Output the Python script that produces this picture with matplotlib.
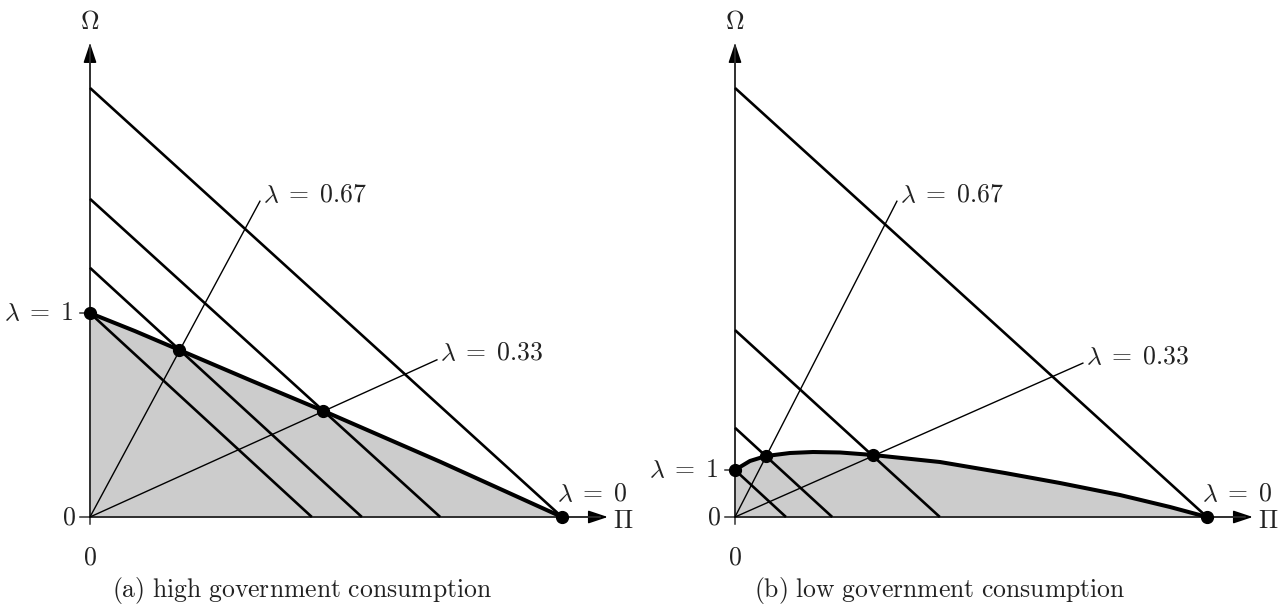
import matplotlib
matplotlib.use("Agg")
import matplotlib.pyplot as plt

plt.rcParams['mathtext.fontset'] = 'cm'
plt.rcParams['font.family'] = ['DejaVu Serif']

# ---------------- data (left: high government consumption) ----------------
left_front_x = [0.0, 0.095, 0.189, 0.339, 0.494, 0.742, 1.0]
left_front_y = [0.432, 0.394, 0.354, 0.290, 0.225, 0.117, 0.0]
left_pts_x = [0.0, 0.189, 0.494, 1.0]
left_pts_y = [0.432, 0.354, 0.225, 0.0]
left_iso_xint = [0.470, 0.576, 0.742, 1.0]
left_iso_yint = [0.432, 0.528, 0.674, 0.909]
left_ray_x = [0.360, 0.735]
left_ray_y = [0.669, 0.333]

# ---------------- data (right: low government consumption) ----------------
right_front_x = [0.0, 0.0318, 0.0657, 0.1165, 0.1653, 0.2225, 0.2924, 0.4343,
                 0.5720, 0.6886, 0.8157, 0.9216, 1.0]
right_front_y = [0.0996, 0.1187, 0.1292, 0.1356, 0.1377, 0.1367, 0.1314, 0.1165,
                 0.0932, 0.0720, 0.0466, 0.0212, 0.0]
right_pts_x = [0.0, 0.0657, 0.2924, 1.0]
right_pts_y = [0.0996, 0.1292, 0.1314, 0.0]
right_iso_xint = [0.108, 0.206, 0.434, 1.0]
right_iso_yint = [0.0996, 0.189, 0.396, 0.909]
right_ray_x = [0.343, 0.737]
right_ray_y = [0.669, 0.326]

ray_labels = [r'$\lambda\;=\;0.67$', r'$\lambda\;=\;0.33$']
captions = [r'$\mathrm{(a)\ high\ government\ consumption}$',
            r'$\mathrm{(b)\ low\ government\ consumption}$']

W, H = 1288, 611
fig = plt.figure(figsize=(W / 100, H / 100), dpi=100)

scale = 472.0
xlim = (-0.19, 1.15)
ylim = (-0.19, 1.095)
FS = 18.5
TC = '#222222'
AX = '#333333'


def make_ax(origin_px_x, origin_px_y=517):
    left_px = origin_px_x + xlim[0] * scale
    width_px = (xlim[1] - xlim[0]) * scale
    bottom_px = H - (origin_px_y - ylim[0] * scale)
    height_px = (ylim[1] - ylim[0]) * scale
    ax = fig.add_axes([left_px / W, bottom_px / H, width_px / W, height_px / H])
    ax.set_xlim(*xlim)
    ax.set_ylim(*ylim)
    ax.axis('off')
    return ax


def draw_panel(ax, fx, fy, px, py, xint, yint, rx, ry):
    ax.fill_between(fx, fy, 0, color='#cccccc', lw=0, zorder=1)
    # axes arrows
    ap = dict(arrowstyle='-|>,head_length=0.6,head_width=0.2', color='black',
              lw=1.1, shrinkA=0, shrinkB=0, mutation_scale=20)
    ax.annotate('', xy=(1.097, 0), xytext=(0, 0), arrowprops=ap, zorder=2)
    ax.annotate('', xy=(0, 1.004), xytext=(0, 0), arrowprops=ap, zorder=2)
    ax.plot([0, 0], [0, 1.0], color=AX, lw=1.1, zorder=2)
    ax.plot([0, 1.08], [0, 0], color=AX, lw=1.1, zorder=2)
    # ticks
    ax.plot([-0.022, 0], [0, 0], color=AX, lw=1.1, zorder=2)
    ax.plot([-0.022, 0], [py[0], py[0]], color=AX, lw=1.1, zorder=2)
    ax.plot([0, 0], [-0.015, 0], color=AX, lw=1.1, zorder=2)
    # iso lines
    for xi, yi in zip(xint, yint):
        ax.plot([0, xi], [yi, 0], color='black', lw=1.9, zorder=3,
                solid_capstyle='butt')
    # rays
    for x, y, lab in zip(rx, ry, ray_labels):
        ax.plot([0, x], [0, y], color='black', lw=1.0, zorder=3)
        ax.text(x + 0.006, y - 0.012, lab, fontsize=FS, color=TC,
                ha='left', va='bottom')
    # frontier
    ax.plot(fx, fy, color='black', lw=2.9, zorder=4, solid_joinstyle='round')
    ax.plot(px, py, 'o', color='black', ms=8.5, zorder=5)
    # labels
    ax.text(0, 1.049, r'$\Omega$', fontsize=FS, color=TC, ha='center', va='center')
    ax.text(1.108, -0.008, r'$\Pi$', fontsize=FS, color=TC, ha='left', va='center')
    ax.text(-0.03, 0, r'$0$', fontsize=FS, color=TC, ha='right', va='center')
    ax.text(0, -0.085, r'$0$', fontsize=FS, color=TC, ha='center', va='center')
    ax.text(-0.035, py[0], r'$\lambda\;=\;1$', fontsize=FS, color=TC,
            ha='right', va='center')
    ax.text(0.99, 0.022, r'$\lambda\;=\;0$', fontsize=FS, color=TC,
            ha='left', va='bottom')


axL = make_ax(90)
draw_panel(axL, left_front_x, left_front_y, left_pts_x, left_pts_y,
           left_iso_xint, left_iso_yint, left_ray_x, left_ray_y)
axR = make_ax(735)
draw_panel(axR, right_front_x, right_front_y, right_pts_x, right_pts_y,
           right_iso_xint, right_iso_yint, right_ray_x, right_ray_y)

fig.text(302 / W, 1 - 590 / H, captions[0], fontsize=FS, color=TC,
         ha='center', va='center')
fig.text(940 / W, 1 - 590 / H, captions[1], fontsize=FS, color=TC,
         ha='center', va='center')

fig.savefig('out.png', dpi=100, facecolor='white')
